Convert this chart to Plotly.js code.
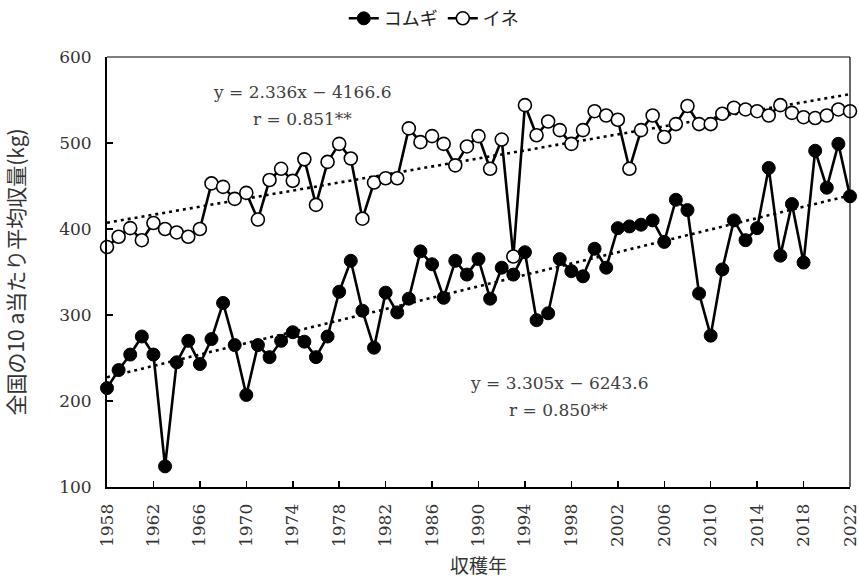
<!DOCTYPE html>
<html><head><meta charset="utf-8">
<script src="https://cdn.plot.ly/plotly-3.0.1.min.js"></script>
<style>html,body{margin:0;padding:0;background:#fff}#chart{width:859px;height:582px}</style>
</head><body><div id="chart"></div>
<script>
const years = [1958,1959,1960,1961,1962,1963,1964,1965,1966,1967,
  1968,1969,1970,1971,1972,1973,1974,1975,1976,1977,
  1978,1979,1980,1981,1982,1983,1984,1985,1986,1987,
  1988,1989,1990,1991,1992,1993,1994,1995,1996,1997,
  1998,1999,2000,2001,2002,2003,2004,2005,2006,2007,
  2008,2009,2010,2011,2012,2013,2014,2015,2016,2017,
  2018,2019,2020,2021,2022];
const wheat = [215,236,254,275,254,124,245,270,243,272,
  314,265,207,265,251,270,280,269,251,275,
  327,363,305,262,326,303,319,374,359,320,
  363,347,365,319,355,347,373,294,302,365,
  351,345,377,355,401,403,405,410,385,434,
  422,325,276,353,410,387,401,471,369,429,
  361,491,448,499,438];
const rice = [379,391,401,387,407,400,396,391,400,453,
  449,435,442,411,457,470,456,481,428,478,
  499,482,412,454,459,459,517,501,508,499,
  474,496,508,470,504,368,544,509,525,515,
  499,515,537,532,527,470,515,532,507,522,
  543,522,522,534,541,539,537,532,544,535,
  530,529,532,539,537];
const seriesNames = ['コムギ','イネ'];
const wheatCoef = [3.305, -6243.6];
const riceCoef = [2.336, -4166.6];
const trendYears = [1958, 2022];
const wheatLabels = ['y = 3.305x − 6243.6', 'r = 0.850**'];
const riceLabels = ['y = 2.336x − 4166.6', 'r = 0.851**'];
const xTicks = [1958,1962,1966,1970,1974,1978,1982,1986,1990,1994,1998,2002,2006,2010,2014,2018,2022];
const yTicks = [100,200,300,400,500,600];

const SERIF = 'DejaVu Serif, Noto Sans CJK JP, serif';
const CJK = 'Noto Sans CJK JP, sans-serif';

const trend = (c) => trendYears.map(x => c[0]*x + c[1]);

const data = [
  {x: trendYears, y: trend(riceCoef), mode:'lines', line:{color:'#000', width:2.6, dash:'3px,4px'}, showlegend:false, hoverinfo:'skip'},
  {x: trendYears, y: trend(wheatCoef), mode:'lines', line:{color:'#000', width:2.6, dash:'3px,4px'}, showlegend:false, hoverinfo:'skip'},
  {x: years, y: rice, name: seriesNames[1], mode:'lines+markers', legendrank:2,
   line:{color:'#000', width:2.6},
   marker:{symbol:'circle', size:13, color:'#fff', line:{color:'#000', width:1.6}}, cliponaxis:false},
  {x: years, y: wheat, name: seriesNames[0], mode:'lines+markers', legendrank:1,
   line:{color:'#000', width:2.6},
   marker:{symbol:'circle', size:13, color:'#000', line:{color:'#000', width:1}}, cliponaxis:false}
];

const annFont = {family: SERIF, size: 17, color: '#404040'};
const layout = {
  width: 859, height: 582,
  margin: {l:107, r:9, t:57, b:95},
  paper_bgcolor:'#fff', plot_bgcolor:'#fff',
  showlegend: true,
  legend: {orientation:'h', xref:'container', yref:'container', x:0.505, y:0.968, xanchor:'center', yanchor:'middle',
    font:{family:CJK, size:18, color:'#222'}, itemwidth:30, traceorder:'normal'},
  xaxis: {range:[1958,2022], tickmode:'array', tickvals:xTicks, ticktext:xTicks.map(String), tickangle:-90,
    ticks:'inside', ticklen:6, tickwidth:1.5, tickcolor:'#000', showline:true, linewidth:2, linecolor:'#000',
    showgrid:false, zeroline:false, ticklabelstandoff:8, ticklabeloverflow:'allow',
    tickfont:{family:SERIF, size:17, color:'#333'},
    title:{text:'収穫年', font:{family:CJK, size:19, color:'#333'}, standoff:14}},
  yaxis: {range:[100,600], tickmode:'array', tickvals:yTicks, ticktext:yTicks.map(String),
    ticks:'inside', ticklen:6, tickwidth:1.5, tickcolor:'#000', showline:true, linewidth:2, linecolor:'#000',
    showgrid:false, zeroline:false, ticklabelstandoff:10, ticklabeloverflow:'allow',
    tickfont:{family:SERIF, size:17, color:'#333'},
    title:{text:'全国の10 a当たり平均収量(kg)', font:{family:CJK, size:21, color:'#333'}, standoff:30}},
  shapes: [
    {type:'line', xref:'paper', yref:'paper', x0:0, x1:1, y0:1, y1:1, line:{color:'#000', width:1.2}},
    {type:'line', xref:'paper', yref:'paper', x0:1, x1:1, y0:0, y1:1, line:{color:'#000', width:1.2}}
  ],
  annotations: [
    {x:1974.8, y:559, xref:'x', yref:'y', text:riceLabels[0], showarrow:false, font:annFont, xanchor:'center', yanchor:'middle'},
    {x:1974.8, y:528, xref:'x', yref:'y', text:riceLabels[1], showarrow:false, font:annFont, xanchor:'center', yanchor:'middle'},
    {x:1996.9, y:221, xref:'x', yref:'y', text:wheatLabels[0], showarrow:false, font:annFont, xanchor:'center', yanchor:'middle'},
    {x:1996.9, y:189.5, xref:'x', yref:'y', text:wheatLabels[1], showarrow:false, font:annFont, xanchor:'center', yanchor:'middle'}
  ]
};
Plotly.newPlot('chart', data, layout, {displayModeBar:false, staticPlot:true});
</script>
</body></html>
